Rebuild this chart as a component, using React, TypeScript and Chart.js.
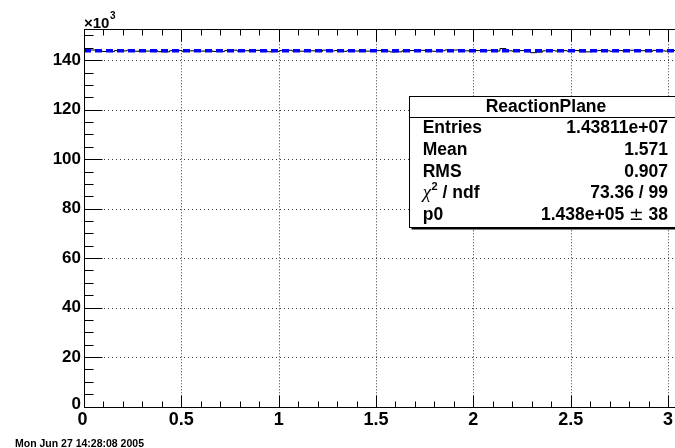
import React, { useEffect, useRef } from "react";
import { Chart, registerables } from "chart.js";

Chart.register(...registerables);

// Histogram "ReactionPlane": 100 bins over [0, pi]
const binCount = 100;
const xMin = 0;
const xMax = Math.PI;
const binContents = [
  143950, 144120, 143700, 143520, 143480, 143900, 143760, 144050, 143620, 143880,
  143700, 144000, 143450, 143400, 143850, 143950, 143620, 143780, 144100, 143690,
  143820, 143550, 143500, 143930, 144060, 143710, 143840, 143600, 143990, 143760,
  143420, 143530, 143880, 144020, 143700, 143650, 143900, 143810, 143560, 144080,
  143730, 143940, 143600, 143850, 143720, 144030, 143680, 143790, 143950, 143640,
  143350, 143400, 143820, 143900, 143700, 143980, 143760, 143620, 143850, 144150,
  144100, 144180, 143800, 143690, 143900, 143750, 143980, 143700, 144700, 143820,
  143650, 143900, 143450, 143050, 143300, 143800, 143950, 143720, 143880, 143640,
  143900, 143400, 143380, 143750, 143960, 143820, 143600, 143900, 143770, 144020,
  143700, 143850, 143560, 143980, 143800, 143680, 143930, 143750, 143870, 144000,
];

// Constant fit (pol0)
const fitP0 = 143800;
const fitP0Err = 38;

// Stats box
const statsTitle = "ReactionPlane";
const statsEntries = "1.43811e+07";
const statsMean = "1.571";
const statsRms = "0.907";
const statsChi2 = "73.36 / 99";

// Axes
const yMax = 152500;
const yMultiplier = 1000;
const xMajorTicks = [0, 0.5, 1, 1.5, 2, 2.5, 3];
const xTickLabels = ["0", "0.5", "1", "1.5", "2", "2.5", "3"];
const xMinorStep = 0.1;
const yMajorTicks = [0, 20, 40, 60, 80, 100, 120, 140];
const yTickLabels = ["0", "20", "40", "60", "80", "100", "120", "140"];
const yMinorStep = 5;

const dateStamp = "Mon Jun 27 14:28:08 2005";

const SANS = '"Liberation Sans", Arial, Helvetica, sans-serif';

const rootStyle = {
  id: "rootStyle",
  beforeDatasetsDraw(chart: any) {
    const { ctx, chartArea: a, scales } = chart;
    const x = scales.x;
    const y = scales.y;
    ctx.save();
    ctx.strokeStyle = "#3a3a3a";
    ctx.lineWidth = 1;
    ctx.setLineDash([1, 2]);
    for (const v of xMajorTicks) {
      if (v <= xMin) continue;
      const px = Math.round(x.getPixelForValue(v)) + 0.5;
      ctx.beginPath();
      ctx.moveTo(px, a.top);
      ctx.lineTo(px, a.bottom);
      ctx.stroke();
    }
    ctx.setLineDash([1, 3]);
    for (const v of yMajorTicks) {
      if (v <= 0) continue;
      const py = Math.round(y.getPixelForValue(v * yMultiplier)) + 0.5;
      ctx.beginPath();
      ctx.moveTo(a.left, py);
      ctx.lineTo(a.right, py);
      ctx.stroke();
    }
    ctx.restore();
  },
  afterDatasetsDraw(chart: any) {
    const { ctx, chartArea: a, scales } = chart;
    const x = scales.x;
    const y = scales.y;
    const L = Math.round(a.left) + 0.5;
    const R = Math.round(a.right) + 0.5;
    const T = Math.round(a.top) + 0.5;
    const B = Math.round(a.bottom) + 0.5;
    ctx.save();
    ctx.strokeStyle = "#000";
    ctx.lineWidth = 1;
    ctx.setLineDash([]);
    ctx.strokeRect(L, T, R - L, B - T);

    // x ticks (bottom and top, inward)
    const seg = (x1: number, y1: number, x2: number, y2: number) => {
      ctx.beginPath();
      ctx.moveTo(x1, y1);
      ctx.lineTo(x2, y2);
      ctx.stroke();
    };
    for (let i = 0; i * xMinorStep <= xMax + 1e-9; i++) {
      const v = i * xMinorStep;
      const major = i % 5 === 0;
      const len = major ? 12 : 6;
      const px = Math.round(x.getPixelForValue(v)) + 0.5;
      seg(px, B, px, B - len);
      seg(px, T, px, T + len);
    }
    // y ticks (left and right, inward)
    for (let v = 0; v <= yMax / yMultiplier + 1e-9; v += yMinorStep) {
      const major = v % 20 === 0;
      const len = major ? 18 : 9;
      const py = Math.round(y.getPixelForValue(v * yMultiplier)) + 0.5;
      seg(L, py, L + len, py);
      seg(R, py, R - len, py);
    }

    // tick labels
    ctx.fillStyle = "#000";
    ctx.font = `bold 18px ${SANS}`;
    ctx.textAlign = "center";
    ctx.textBaseline = "alphabetic";
    xMajorTicks.forEach((v, i) => {
      ctx.fillText(xTickLabels[i], x.getPixelForValue(v) - (v === 0 ? 1.5 : 0), a.bottom + 18);
    });
    ctx.font = `bold 17px ${SANS}`;
    ctx.textAlign = "right";
    yMajorTicks.forEach((v, i) => {
      const py = y.getPixelForValue(v * yMultiplier);
      ctx.fillText(yTickLabels[i], a.left - 3, py + (v === 0 ? 2 : 4.7));
    });

    // axis multiplier
    ctx.textAlign = "left";
    ctx.font = `bold 15px ${SANS}`;
    ctx.fillText("\u00d710", a.left, a.top - 1.5);
    const w = ctx.measureText("\u00d710").width;
    ctx.font = `bold 10px ${SANS}`;
    ctx.fillText("3", a.left + w + 0.5, a.top - 10);
    ctx.restore();
  },
  afterDraw(chart: any) {
    const { ctx } = chart;
    ctx.save();
    // statistics box
    const bx = 409.5, by = 96.5, bw = 273, bh = 131;
    ctx.fillStyle = "#000";
    ctx.fillRect(bx + 2, by + 2, bw, bh);
    ctx.fillStyle = "#fff";
    ctx.fillRect(bx, by, bw, bh);
    ctx.strokeStyle = "#000";
    ctx.lineWidth = 1;
    ctx.strokeRect(bx, by, bw, bh);
    ctx.beginPath();
    ctx.moveTo(bx, 117.5);
    ctx.lineTo(bx + bw, 117.5);
    ctx.stroke();

    ctx.fillStyle = "#000";
    ctx.textBaseline = "alphabetic";
    ctx.font = `bold 17.5px ${SANS}`;
    ctx.textAlign = "center";
    ctx.fillText(statsTitle, bx + bw / 2, 111.7);

    const lx = 422.7;
    const rx = 668;
    const rows: [string, string][] = [
      ["Entries", statsEntries],
      ["Mean", statsMean],
      ["RMS", statsRms],
    ];
    const base0 = 133.3;
    const step = 21.7;
    rows.forEach(([k, v], i) => {
      ctx.font = `bold 17.5px ${SANS}`;
      ctx.textAlign = "left";
      ctx.fillText(k, lx, base0 + i * step);
      ctx.textAlign = "right";
      ctx.fillText(v, rx, base0 + i * step);
    });

    // chi2 / ndf row
    const yc = base0 + 3 * step;
    ctx.textAlign = "left";
    ctx.font = `italic 19px "Liberation Serif", "DejaVu Serif", serif`;
    ctx.fillText("\u03c7", lx, yc);
    let cx = lx + ctx.measureText("\u03c7").width + 0.5;
    ctx.font = `bold 11px ${SANS}`;
    ctx.fillText("2", cx, yc - 8);
    cx += ctx.measureText("2").width;
    ctx.font = `bold 17.5px ${SANS}`;
    ctx.fillText(" / ndf", cx, yc);
    ctx.textAlign = "right";
    ctx.fillText(statsChi2, rx, yc);

    // p0 row
    const yp = base0 + 4 * step;
    ctx.textAlign = "left";
    ctx.fillText("p0", lx, yp);
    ctx.textAlign = "right";
    const errText = " " + String(fitP0Err);
    ctx.fillText(errText, rx, yp);
    let ex = rx - ctx.measureText(errText).width;
    ctx.font = `17.5px "DejaVu Sans", ${SANS}`;
    ctx.fillText("\u00b1", ex, yp);
    ex -= ctx.measureText("\u00b1").width;
    ctx.font = `bold 17.5px ${SANS}`;
    ctx.fillText(fitP0.toExponential(3).replace("e+", "e+0") + " ", ex, yp);

    // date stamp
    ctx.textAlign = "left";
    ctx.font = `bold 10.5px ${SANS}`;
    ctx.fillText(dateStamp, 15, 447);
    ctx.restore();
  },
};

export default function App() {
  const ref = useRef<HTMLCanvasElement | null>(null);
  useEffect(() => {
    if (!ref.current) return;
    const width = (xMax - xMin) / binCount;
    const histPoints = binContents.map((c, i) => ({ x: xMin + i * width, y: c }));
    histPoints.push({ x: xMax, y: binContents[binCount - 1] });
    const fitPoints = [
      { x: xMin, y: fitP0 },
      { x: xMax, y: fitP0 },
    ];
    const chart = new Chart(ref.current, {
      type: "line",
      data: {
        datasets: [
          {
            label: "pol0",
            data: fitPoints,
            borderColor: "#0000ff",
            borderWidth: 3.5,
            borderDash: [7, 4],
            borderCapStyle: "butt",
            pointRadius: 0,
            fill: false,
          },
          {
            label: "ReactionPlane",
            data: histPoints,
            borderColor: "#000000",
            borderWidth: 1,
            pointRadius: 0,
            stepped: "before",
            fill: false,
          },
        ],
      },
      options: {
        responsive: false,
        animation: false,
        devicePixelRatio: 1,
        events: [],
        layout: { padding: { left: 84, top: 29.3, right: 8.4, bottom: 41.5 } },
        scales: {
          x: { type: "linear", min: xMin, max: xMax, display: false },
          y: { type: "linear", min: 0, max: yMax, display: false },
        },
        plugins: { legend: { display: false }, tooltip: { enabled: false } },
      },
      plugins: [rootStyle],
    });
    return () => chart.destroy();
  }, []);
  return (
    <div
      style={{
        position: "fixed",
        left: 0,
        top: 0,
        width: 675,
        height: 448,
        overflow: "hidden",
        background: "#fff",
      }}
    >
      <canvas ref={ref} width={704} height={448} style={{ display: "block" }} />
    </div>
  );
}
